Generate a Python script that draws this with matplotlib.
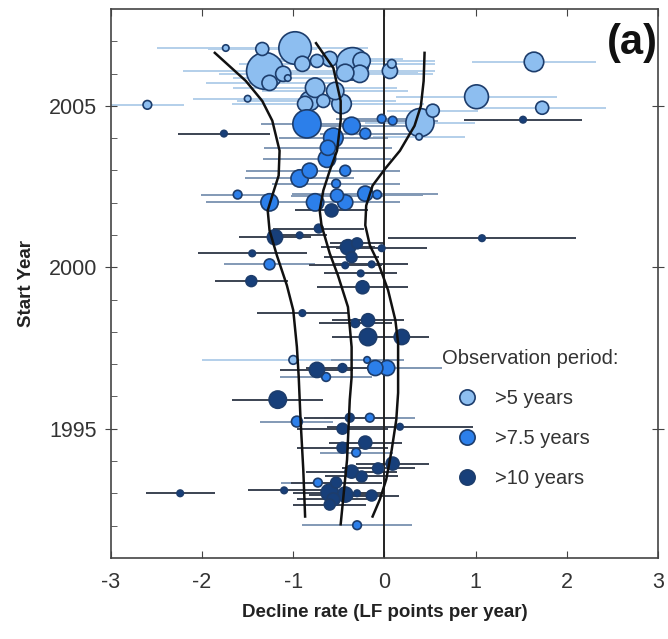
import numpy as np
import matplotlib
matplotlib.use('Agg')
import matplotlib.pyplot as plt
from matplotlib.lines import Line2D

plt.rcParams['font.family'] = ['Liberation Sans', 'DejaVu Sans']

# >5 years observation period: (rate, start year, half-width of CI, relative weight)
light_rate = [-1.74, -1.34, -0.98, -1.31, -1.26, -1.11, -1.06, -0.90, -0.74, -0.60,
              -0.35, -0.25, -0.27, -0.43, -0.76, -0.82, -0.67, -0.54, -0.47, -0.87,
              0.06, 0.08, -1.50, -2.60, 0.39, 0.53, 0.38, 1.64, 1.01, 1.73, -1.00]
light_year = [2006.79, 2006.76, 2006.79, 2006.08, 2005.71, 2005.99, 2005.86, 2006.30, 2006.39, 2006.45,
              2006.30, 2006.39, 2005.99, 2006.02, 2005.56, 2005.15, 2005.15, 2005.46, 2005.06, 2005.06,
              2006.08, 2006.30, 2005.22, 2005.03, 2004.48, 2004.85, 2004.04, 2006.36, 2005.28, 2004.94, 1997.13]
light_err = [0.75, 0.6, 0.8, 0.9, 0.7, 0.7, 0.6, 0.7, 0.7, 0.8,
             0.9, 0.8, 0.8, 0.8, 0.9, 0.8, 0.8, 0.8, 0.9, 0.8,
             0.5, 0.4, 0.6, 0.4, 0.6, 0.5, 0.5, 0.68, 0.88, 0.7, 1.0]
light_w = [3, 6, 15, 17, 7, 7, 3, 7, 6, 7,
           15, 8, 8, 8, 9, 9, 6, 8, 9, 7,
           7, 4, 3, 4, 13, 6, 3, 9, 11, 6, 4]

# >7.5 years
mid_rate = [-0.85, -0.36, -0.21, -0.56, -0.62, -0.63, -0.43, -0.82, -0.93, -0.53,
            -0.21, -0.08, -1.26, -0.76, -0.52, -0.43, -1.26, -1.61, -0.19, -0.10,
            0.03, -0.64, -0.96, -0.16, -0.31, -0.73, -0.30, -0.03, 0.09]
mid_year = [2004.44, 2004.38, 2004.14, 2004.01, 2003.70, 2003.36, 2002.99, 2002.99, 2002.75, 2002.59,
            2002.28, 2002.25, 2002.01, 2002.01, 2002.22, 2002.01, 2000.09, 2002.25, 1997.13, 1996.88,
            1996.88, 1996.60, 1995.22, 1995.34, 1994.26, 1993.33, 1992.01, 2004.60, 2004.54]
mid_err = [0.5, 0.6, 0.5, 0.6, 0.7, 0.7, 0.6, 0.7, 0.6, 0.7,
           0.8, 0.5, 0.7, 0.6, 0.5, 0.6, 0.5, 0.4, 0.4, 0.6,
           0.6, 0.5, 0.4, 0.5, 0.4, 0.4, 0.6, 0.5, 0.5]
mid_w = [13, 8, 5, 9, 7, 8, 5, 7, 8, 4,
         7, 4, 8, 8, 6, 7, 5, 4, 3, 7,
         7, 4, 5, 4, 4, 4, 4, 4, 4]

# >10 years
dark_rate = [-1.76, -0.58, -0.72, -1.20, -0.93, -1.45, -0.40, -0.30, -0.36, -0.03,
             -0.43, -0.14, -1.46, -0.26, -0.24, -0.90, -0.32, -0.18, -0.18, 0.19,
             -0.74, -0.46, -1.17, -0.38, 0.17, -0.46, -0.21, -0.46, 0.09, -0.07,
             -0.36, -0.25, -0.53, -2.24, -1.10, -0.60, -0.43, -0.56, -0.60, -0.30,
             -0.14, 1.52, 1.07]
dark_year = [2004.14, 2001.76, 2001.20, 2000.93, 2000.99, 2000.43, 2000.62, 2000.74, 2000.31, 2000.59,
             2000.06, 2000.09, 1999.57, 1999.81, 1999.38, 1998.58, 1998.27, 1998.36, 1997.84, 1997.84,
             1996.82, 1996.88, 1995.90, 1995.34, 1995.06, 1995.00, 1994.57, 1994.41, 1993.92, 1993.77,
             1993.67, 1993.52, 1993.33, 1993.00, 1993.09, 1993.02, 1992.96, 1992.81, 1992.65, 1993.00,
             1992.93, 2004.57, 2000.90]
dark_err = [0.5, 0.4, 0.5, 0.4, 0.3, 0.6, 0.3, 0.3, 0.3, 0.5,
            0.4, 0.4, 0.4, 0.4, 0.5, 0.5, 0.4, 0.4, 0.4, 0.3,
            0.4, 0.4, 0.5, 0.5, 0.8, 0.5, 0.4, 0.5, 0.4, 0.4,
            0.5, 0.4, 0.5, 0.38, 0.4, 0.4, 0.4, 0.4, 0.4, 0.3,
            0.3, 0.65, 1.03]
dark_w = [3, 6, 4, 7, 3, 3, 7, 5, 5, 3,
          3, 3, 5, 3, 6, 3, 4, 6, 8, 7,
          7, 4, 8, 4, 3, 5, 6, 5, 6, 5,
          6, 5, 5, 3, 3, 8, 7, 6, 5, 3,
          5, 3, 3]

# fitted curves (rate, year)
left_x = [-1.86, -1.52, -1.34, -1.23, -1.15, -1.16, -1.23, -1.28, -1.26, -1.18, -1.07, -1.00, -0.96, -0.94, -0.92, -0.89, -0.87]
left_y = [2006.64, 2005.77, 2005.15, 2004.54, 2003.61, 2002.84, 2002.22, 2001.76, 2001.14, 2000.37, 1999.44, 1998.67, 1997.53, 1996.60, 1995.28, 1993.73, 1992.28]
mid_x = [-0.75, -0.56, -0.48, -0.48, -0.52, -0.60, -0.67, -0.71, -0.69, -0.60, -0.51, -0.40, -0.36, -0.36, -0.38, -0.41, -0.48]
mid_y = [2006.94, 2006.17, 2005.15, 2004.54, 2003.61, 2002.99, 2002.38, 2001.76, 2001.30, 2000.43, 1999.75, 1998.77, 1997.53, 1996.60, 1995.90, 1994.04, 1992.04]
right_x = [0.44, 0.43, 0.40, 0.33, 0.17, 0.01, -0.13, -0.20, -0.21, -0.16, -0.07, 0.04, 0.12, 0.15, 0.15, 0.13, 0.08, 0.02, -0.05, -0.13]
right_y = [2006.64, 2005.77, 2005.00, 2004.38, 2003.61, 2003.06, 2002.53, 2001.91, 2001.30, 2000.68, 2000.15, 1999.29, 1998.36, 1997.65, 1996.11, 1995.28, 1994.35, 1993.43, 1992.81, 1992.28]

light_c = '#8dbef0'
mid_c = '#2c7fea'
dark_c = '#173f7a'
edge_c = '#1d3d6c'

fig = plt.figure(figsize=(6.68, 6.39), dpi=100)
ax = fig.add_axes([0.166, 0.127, 0.819, 0.859])


def msize(w):
    return (2 * np.asarray(w) * 0.78) ** 2


groups = [
    (light_rate, light_year, light_err, light_w, light_c, '#b3cfea'),
    (mid_rate, mid_year, mid_err, mid_w, mid_c, '#8299b5'),
    (dark_rate, dark_year, dark_err, dark_w, dark_c, '#3b4352'),
]

# error bars first
for rate, year, err, w, c, ec in groups:
    ax.errorbar(rate, year, xerr=err, fmt='none', ecolor=ec, elinewidth=1.4, capsize=0, zorder=1)

ax.axvline(0, color='#222222', lw=1.4, zorder=2)

for rate, year, err, w, c, ec in groups:
    order = np.argsort(w)[::-1]
    r = np.asarray(rate)[order]
    y = np.asarray(year)[order]
    s = msize(np.asarray(w)[order])
    ax.scatter(r, y, s=s, c=c, edgecolors=edge_c, linewidths=1.2, zorder=3)

for cx, cy in [(left_x, left_y), (mid_x, mid_y), (right_x, right_y)]:
    ax.plot(cx, cy, color='#111111', lw=1.8, zorder=4)

ax.set_xlim(-3, 3)
ax.set_ylim(1991, 2008)
ax.set_xticks([-3, -2, -1, 0, 1, 2, 3])
ax.set_xticklabels(['-3', '-2', '-1', '0', '1', '2', '3'])
ax.set_yticks([1995, 2000, 2005])
ax.set_yticks(np.arange(1992, 2008), minor=True)
ax.tick_params(axis='both', which='major', labelsize=15.5, labelcolor='#333333', color='#444444')
ax.tick_params(axis='x', which='major', direction='in', top=True, length=5, pad=10)
ax.tick_params(axis='y', which='major', direction='inout', right=True, length=8, pad=6)
ax.tick_params(axis='y', which='minor', direction='in', length=4, color='#444444')
for sp in ax.spines.values():
    sp.set_color('#444444')
    sp.set_linewidth(1.2)

ax.set_xlabel('Decline rate (LF points per year)', fontsize=13.5, fontweight='bold', color='#222222', labelpad=8)
ax.set_ylabel('Start Year', fontsize=13.5, fontweight='bold', color='#222222', labelpad=10)

ax.text(0.999, 0.975, '(a)', transform=ax.transAxes, ha='right', va='top',
        fontsize=30, fontweight='bold', color='#111111')

handles = [Line2D([], [], ls='none', marker='o', markersize=11, markerfacecolor=c,
                  markeredgecolor=edge_c, markeredgewidth=1.2) for c in (light_c, mid_c, dark_c)]
leg = ax.legend(handles, ['>5 years', '>7.5 years', '>10 years'], title='Observation period:',
                loc='upper left', bbox_to_anchor=(0.587, 0.399), frameon=False, fontsize=14.5,
                title_fontsize=14.5, labelspacing=1.05, handlelength=2.5, handletextpad=0.15,
                borderpad=0)
leg._legend_box.align = 'left'
for t in leg.get_texts():
    t.set_color('#333333')
leg.get_title().set_color('#333333')

fig.savefig('out.png', dpi=100)
